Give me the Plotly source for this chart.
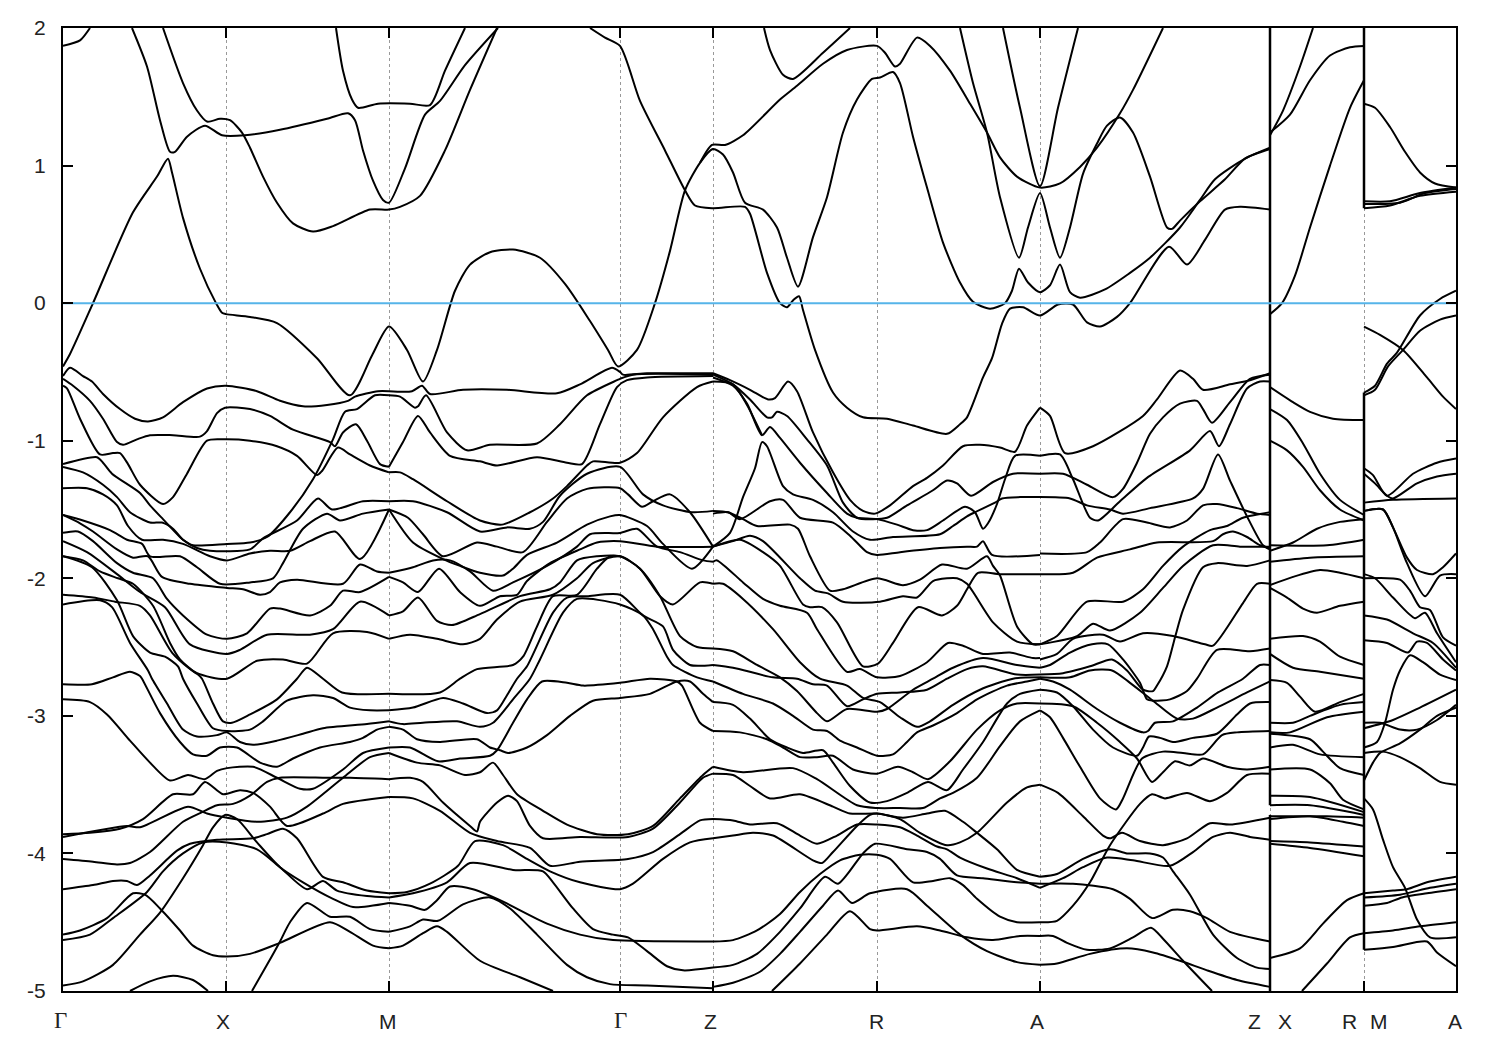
import plotly.graph_objects as go

# Path positions of the high-symmetry points (k axis units) and energies in eV
K_TICKS = [63, 226, 389, 620, 713, 877, 1040, 1270, 1364, 1456]
E_TICKS = [2, 1, 0, -1, -2, -3, -4, -5]
E_LABELS = ["2", "1", "0", "-1", "-2", "-3", "-4", "-5"]
K_LABELS = [("Γ", 63), ("X", 223), ("M", 388), ("Γ", 620), ("Z", 710), ("R", 876),
            ("A", 1037), ("Z", 1254), ("X", 1285), ("R", 1349), ("M", 1379), ("A", 1455)]

UPPER = [
 [(63,-.46),(70,-.37),(93,0),(133,.66),(157,.92),(168,1.05),(172,.95),(183,.62),(200,.25),(216,0),(222,-.07),(226,-.08),(250,-.1),(277,-.145),(317,-.40),(350,-.67),(372,-.38),(389,-.17),(407,-.34),(423,-.57),(437,-.34),(455,.09),(470,.28),(490,.37),(513,.39),(540,.33),(565,.14),(590,-.13),(608,-.34),(618,-.46),(637,-.34),(655,0),(670,.38),(685,.82),(700,1.02),(713,1.12),(723,1.08),(733,.95),(745,.73),(763,.68),(777,.55),(787,.33),(798,.12),(813,.48),(827,.77),(843,1.24),(857,1.48),(872,1.63),(880,1.64),(893,1.68),(900,1.60),(913,1.21),(927,.84),(943,.44),(960,.15),(973,.01),(990,-.04),(1005,0),(1012,.09),(1019,.25),(1028,.15),(1040,.08),(1050,.13),(1060,.28),(1070,.08),(1080,.04),(1105,.10),(1130,.22),(1150,.33),(1180,.55),(1200,.75),(1215,.90),(1245,1.05),(1270,1.13)],
 [(132,2),(147,1.72),(160,1.33),(170,1.10),(175,1.10),(187,1.21),(205,1.29),(222,1.22),(245,1.22),(280,1.26),(327,1.34),(348,1.38),(355,1.33),(363,1.11),(373,.89),(383,.75),(389,.73),(405,.98),(425,1.37),(440,1.47),(465,1.73),(498,2)],
 [(163,2),(183,1.6),(197,1.40),(207,1.32),(220,1.34),(230,1.33),(242,1.24),(250,1.13),(263,.92),(277,.73),(293,.58),(313,.52),(333,.56),(370,.68),(389,.68),(400,.70),(420,.78),(445,1.11),(470,1.55),(497,2)],
 [(336,2),(343,1.69),(352,1.48),(358,1.42),(378,1.45),(410,1.45),(430,1.44),(445,1.69),(465,2)],
 [(63,1.87),(80,1.91),(90,2)],
 [(590,2),(605,1.93),(620,1.87),(640,1.47),(665,1.11),(685,.82),(695,.71),(713,.69),(745,.70),(750,.65),(767,.22),(780,0),(787,-.03),(793,.02),(799,.05),(803,-.05),(815,-.34),(833,-.65),(847,-.76),(863,-.83),(887,-.84),(913,-.89),(947,-.95),(960,-.88),(967,-.83),(983,-.54),(992,-.40),(1002,-.15),(1010,-.04),(1023,-.03),(1040,-.09),(1058,-.01),(1073,-.01),(1087,-.14),(1100,-.17),(1117,-.10),(1130,0),(1169,.41),(1187,.28),(1205,.46),(1225,.68),(1240,.70),(1270,.68)],
 [(700,1.02),(712,1.15),(725,1.15),(743,1.22),(780,1.48),(797,1.58),(823,1.74),(847,1.84),(877,1.87),(885,1.82),(895,1.72),(900,1.74),(917,1.93),(930,1.87),(950,1.69),(970,1.45),(987,1.24),(1000,1.06),(1017,.92),(1040,.84),(1060,.87),(1080,.99),(1097,1.13),(1120,1.38),(1133,1.55),(1163,2)],
 [(764,2),(770,1.84),(783,1.66),(793,1.63),(823,1.82),(850,2)],
 [(960,2),(973,1.6),(987,1.24),(1000,.77),(1019,.33),(1028,.55),(1040,.80),(1050,.55),(1060,.33),(1070,.55),(1083,.94),(1097,1.16),(1107,1.29),(1120,1.35),(1133,1.24),(1150,.92),(1167,.55),(1172,.54),(1180,.60),(1200,.74),(1225,.90),(1245,1.05),(1270,1.12)],
 [(1003,2),(1020,1.42),(1040,.85),(1058,1.42),(1078,2)],
]

GM = [
 [(63,-.53),(70,-.47),(83,-.53),(92,-.57),(103,-.66),(120,-.77),(135,-.84),(148,-.86),(163,-.83),(183,-.72),(207,-.62),(226,-.60),(257,-.64),(280,-.71),(303,-.75),(327,-.74),(348,-.71),(355,-.68),(378,-.64),(389,-.64)],
 [(63,-.55),(73,-.60),(90,-.71),(103,-.84),(117,-1.01),(123,-1.03),(137,-.99),(150,-.96),(173,-.96),(200,-.97),(207,-.93),(217,-.80),(225,-.76),(250,-.77),(270,-.82),(293,-.92),(330,-1.01),(335,-1.04),(343,-.94),(356,-.88),(367,-1.0),(380,-1.17),(389,-1.19)],
 [(63,-.60),(67,-.62),(80,-.84),(100,-1.10),(113,-1.09),(120,-1.09),(128,-1.17),(140,-1.32),(163,-1.46),(173,-1.41),(187,-1.24),(207,-1),(223,-.99),(250,-1.0),(277,-1.04),(297,-1.11),(317,-1.25),(322,-1.22),(338,-1.05),(350,-1.10),(370,-1.18),(389,-1.23)],
 [(63,-1.17),(97,-1.12),(103,-1.16),(112,-1.24),(140,-1.38),(150,-1.47),(163,-1.57),(183,-1.72),(193,-1.76),(227,-1.75),(250,-1.74),(267,-1.70),(290,-1.52),(313,-1.28),(333,-.99),(345,-.79),(357,-.77),(375,-.67),(389,-.67)],
 [(63,-1.19),(83,-1.23),(103,-1.32),(117,-1.41),(130,-1.52),(150,-1.595),(162,-1.595),(173,-1.64),(183,-1.72),(197,-1.78),(210,-1.80),(250,-1.79),(263,-1.71),(297,-1.58),(318,-1.42),(332,-1.50),(363,-1.44),(389,-1.44)],
 [(63,-1.345),(87,-1.345),(103,-1.39),(117,-1.47),(128,-1.62),(142,-1.72),(163,-1.72),(183,-1.75),(210,-1.84),(227,-1.87),(250,-1.82),(270,-1.80),(290,-1.80),(310,-1.73),(335,-1.66),(360,-1.86),(389,-1.50)],
 [(63,-1.54),(83,-1.58),(110,-1.65),(127,-1.72),(142,-1.75),(150,-1.84),(180,-1.84),(197,-1.92),(220,-2.04),(250,-2.03),(273,-2.0),(283,-1.89),(303,-1.64),(327,-1.53),(340,-1.58),(363,-1.53),(389,-1.50)],
 [(63,-1.54),(80,-1.60),(93,-1.66),(117,-1.79),(133,-1.85),(148,-1.84),(162,-1.99),(190,-2.04),(227,-2.07),(243,-2.08),(260,-2.12),(270,-2.10),(280,-2.03),(297,-2.01),(343,-2.04),(360,-1.9),(377,-1.95),(389,-1.96)],
 [(63,-1.67),(78,-1.66),(93,-1.73),(117,-1.89),(133,-1.96),(153,-2.0),(167,-2.15),(183,-2.27),(207,-2.41),(227,-2.44),(247,-2.40),(270,-2.22),(280,-2.22),(310,-2.27),(330,-2.20),(343,-2.09),(360,-2.10),(389,-1.99)],
 [(63,-1.73),(87,-1.81),(117,-1.97),(140,-2.1),(165,-2.21),(190,-2.48),(227,-2.55),(240,-2.52),(267,-2.41),(310,-2.41),(333,-2.37),(360,-2.17),(389,-2.27)],
 [(63,-1.84),(83,-1.87),(100,-1.95),(118,-2.0),(133,-2.04),(153,-2.2),(170,-2.47),(180,-2.59),(197,-2.69),(227,-2.73),(257,-2.6),(283,-2.59),(307,-2.62),(333,-2.40),(367,-2.39),(389,-2.44)],
 [(63,-1.84),(92,-1.92),(117,-2.16),(133,-2.42),(150,-2.54),(165,-2.57),(178,-2.64),(183,-2.73),(197,-2.91),(213,-3.09),(227,-3.11),(250,-3.10),(263,-3.04),(287,-2.89),(313,-2.85),(333,-2.87),(350,-2.94),(370,-2.96),(389,-2.96)],
 [(63,-2.12),(93,-2.14),(115,-2.17),(140,-2.2),(150,-2.27),(172,-2.54),(190,-2.66),(198,-2.70),(202,-2.73),(213,-2.91),(223,-3.04),(232,-3.05),(250,-2.99),(277,-2.88),(297,-2.73),(307,-2.65),(323,-2.73),(342,-2.83),(389,-2.84)],
 [(63,-2.19),(100,-2.16),(112,-2.21),(130,-2.47),(148,-2.67),(152,-2.73),(167,-2.91),(183,-3.10),(197,-3.15),(217,-3.14),(227,-3.12),(240,-3.19),(253,-3.21),(277,-3.18),(303,-3.13),(323,-3.09),(367,-3.06),(389,-3.04)],
 [(63,-2.77),(92,-2.77),(113,-2.72),(130,-2.68),(140,-2.71),(142,-2.73),(160,-2.98),(180,-3.19),(193,-3.28),(207,-3.29),(220,-3.23),(237,-3.23),(260,-3.34),(277,-3.37),(293,-3.31),(320,-3.23),(350,-3.19),(363,-3.16),(377,-3.10),(389,-3.08)],
 [(63,-2.88),(90,-2.90),(107,-2.99),(130,-3.18),(150,-3.34),(170,-3.47),(188,-3.43),(205,-3.46),(217,-3.40),(227,-3.38),(253,-3.37),(277,-3.45),(300,-3.53),(313,-3.53),(343,-3.39),(363,-3.27),(389,-3.23)],
 [(63,-3.86),(90,-3.85),(120,-3.82),(143,-3.75),(173,-3.57),(193,-3.57),(205,-3.48),(223,-3.57),(240,-3.54),(253,-3.56),(270,-3.66),(287,-3.80),(323,-3.71),(343,-3.64),(389,-3.59)],
 [(63,-3.88),(127,-3.80),(140,-3.81),(188,-3.66),(207,-3.71),(227,-3.74),(258,-3.77),(287,-3.74),(307,-3.66),(343,-3.45),(370,-3.30),(389,-3.27)],
 [(63,-4.04),(93,-4.06),(117,-4.08),(130,-4.07),(150,-3.99),(183,-3.77),(202,-3.70),(217,-3.65),(233,-3.64),(250,-3.58),(267,-3.48),(280,-3.45),(327,-3.45),(350,-3.45),(389,-3.46)],
 [(63,-4.26),(93,-4.23),(113,-4.20),(127,-4.20),(137,-4.23),(150,-4.16),(177,-3.98),(190,-3.93),(217,-3.90),(253,-3.89),(267,-3.86),(283,-3.82),(297,-3.89),(323,-4.17),(343,-4.21),(367,-4.27),(389,-4.29)],
 [(63,-4.59),(80,-4.56),(107,-4.47),(133,-4.29),(145,-4.30),(160,-4.40),(180,-4.56),(193,-4.67),(213,-4.74),(227,-4.75),(250,-4.73),(280,-4.65),(330,-4.50),(350,-4.57),(373,-4.67),(389,-4.69)],
 [(63,-4.63),(90,-4.59),(113,-4.47),(147,-4.28),(163,-4.13),(183,-4.0),(203,-3.92),(227,-3.92),(257,-3.97),(280,-4.10),(307,-4.26),(323,-4.20),(337,-4.27),(367,-4.31),(389,-4.32)],
 [(63,-4.96),(83,-4.93),(113,-4.81),(140,-4.59),(160,-4.43),(183,-4.18),(203,-3.94),(213,-3.81),(225,-3.72),(237,-3.75),(257,-3.92),(280,-4.10),(303,-4.21),(333,-4.33),(353,-4.39),(389,-4.36)],
 [(130,-5),(150,-4.93),(173,-4.89),(193,-4.92),(208,-5)],
 [(252,-5),(267,-4.81),(280,-4.64),(290,-4.50),(307,-4.36),(330,-4.46),(350,-4.46),(370,-4.55),(389,-4.57)],
]

MZ = [
 [(389,-.64),(412,-.64),(422,-.60),(430,-.66),(463,-.63),(507,-.63),(557,-.655),(580,-.59),(612,-.47),(620,-.50),(623,-.52),(647,-.51),(713,-.51)],
 [(389,-.67),(400,-.68),(415,-.76),(418,-.75),(426,-.67),(447,-.94),(467,-1.07),(490,-1.03),(537,-1.02),(560,-.88),(587,-.67),(617,-.56),(620,-.55),(633,-.52),(713,-.52)],
 [(389,-1.19),(403,-1.01),(418,-.82),(430,-.94),(450,-1.11),(480,-1.15),(497,-1.18),(537,-1.12),(567,-1.16),(582,-1.17),(600,-.88),(617,-.61),(627,-.56),(647,-.54),(713,-.53)],
 [(389,-1.23),(400,-1.23),(413,-1.28),(447,-1.44),(480,-1.58),(502,-1.61),(530,-1.52),(553,-1.42),(567,-1.33),(587,-1.18),(593,-1.15),(620,-1.16),(637,-1.09),(663,-.83),(697,-.61),(713,-.57)],
 [(389,-1.44),(413,-1.44),(447,-1.52),(480,-1.66),(507,-1.63),(530,-1.64),(543,-1.59),(560,-1.40),(587,-1.24),(620,-1.19),(643,-1.39),(663,-1.47),(692,-1.52),(713,-1.51)],
 [(389,-1.50),(408,-1.56),(423,-1.68),(443,-1.84),(477,-1.74),(497,-1.77),(523,-1.81),(547,-1.59),(567,-1.42),(587,-1.35),(620,-1.345),(628,-1.39),(642,-1.48),(653,-1.44),(670,-1.39),(690,-1.52),(713,-1.77)],
 [(389,-1.50),(413,-1.74),(443,-1.86),(460,-1.91),(480,-1.96),(503,-1.98),(513,-1.93),(527,-1.83),(557,-1.74),(587,-1.61),(610,-1.55),(620,-1.54),(647,-1.62),(663,-1.75),(692,-1.93),(713,-1.77)],
 [(389,-1.96),(413,-1.92),(433,-1.87),(450,-1.87),(470,-1.95),(493,-2.09),(513,-2.03),(547,-1.91),(577,-1.77),(590,-1.68),(620,-1.67),(637,-1.64),(657,-1.77),(680,-1.81),(703,-1.87),(713,-1.88)],
 [(389,-1.99),(403,-2.03),(418,-2.10),(439,-1.93),(460,-2.10),(480,-2.20),(500,-2.13),(517,-2.12),(527,-2.02),(550,-1.89),(580,-1.79),(597,-1.74),(620,-1.73),(657,-1.77),(713,-1.77)],
 [(389,-2.27),(403,-2.24),(418,-2.14),(437,-2.31),(452,-2.34),(480,-2.26),(520,-2.13),(550,-2.08),(560,-2.03),(577,-1.87),(597,-1.84),(620,-1.84),(640,-1.93),(660,-2.13),(673,-2.19),(700,-2.03),(713,-2.04)],
 [(389,-2.44),(410,-2.41),(437,-2.44),(463,-2.48),(480,-2.44),(497,-2.30),(520,-2.17),(553,-2.12),(577,-2.0),(593,-1.89),(620,-1.84),(640,-1.93),(660,-2.13),(680,-2.42),(697,-2.50),(713,-2.51)],
 [(389,-2.84),(440,-2.83),(460,-2.73),(477,-2.66),(513,-2.63),(523,-2.57),(537,-2.35),(553,-2.13),(577,-2.12),(597,-1.93),(610,-1.84),(620,-1.84)],
 [(389,-2.96),(413,-2.94),(443,-2.87),(463,-2.91),(487,-2.98),(497,-2.96),(507,-2.85),(517,-2.73),(527,-2.64),(553,-2.25),(567,-2.14),(587,-2.13),(620,-2.12),(643,-2.27),(663,-2.35),(673,-2.52),(690,-2.63),(713,-2.63)],
 [(389,-3.04),(403,-3.06),(423,-3.05),(457,-3.04),(480,-3.08),(493,-3.05),(513,-2.88),(530,-2.73),(540,-2.59),(563,-2.25),(577,-2.15),(620,-2.19),(643,-2.27),(653,-2.37),(667,-2.57),(673,-2.63),(697,-2.72),(713,-2.75)],
 [(389,-3.08),(403,-3.10),(417,-3.17),(440,-3.19),(477,-3.17),(490,-3.23),(500,-3.25),(508,-3.27),(527,-3.23),(547,-3.14),(570,-3.0),(593,-2.89),(620,-2.87),(650,-2.84),(677,-2.75),(690,-2.75),(703,-2.84),(713,-2.90)],
 [(389,-3.23),(410,-3.23),(438,-3.33),(460,-3.31),(490,-3.29),(497,-3.25),(513,-3.05),(527,-2.88),(542,-2.75),(567,-2.76),(583,-2.78),(620,-2.76),(650,-2.73),(677,-2.75),(682,-2.78),(700,-3.05),(713,-3.11)],
 [(389,-3.27),(417,-3.34),(440,-3.36),(465,-3.43),(480,-3.41),(493,-3.34),(503,-3.43),(517,-3.57),(543,-3.69),(567,-3.79),(597,-3.86),(628,-3.86),(653,-3.80),(680,-3.60),(703,-3.43),(713,-3.37)],
 [(389,-3.46),(410,-3.45),(423,-3.48),(443,-3.63),(470,-3.80),(477,-3.84),(480,-3.77),(497,-3.63),(508,-3.58),(517,-3.62),(530,-3.80),(543,-3.89),(580,-3.88),(628,-3.88),(653,-3.82),(680,-3.63),(703,-3.45),(713,-3.42)],
 [(389,-3.59),(413,-3.60),(440,-3.69),(470,-3.85),(497,-3.91),(530,-3.96),(550,-4.09),(580,-4.06),(628,-4.04),(653,-3.99),(680,-3.86),(700,-3.76),(713,-3.75)],
 [(389,-4.29),(407,-4.28),(430,-4.22),(458,-4.09),(475,-3.91),(503,-3.94),(527,-4.04),(550,-4.13),(580,-4.21),(620,-4.26),(633,-4.22),(663,-4.04),(690,-3.92),(713,-3.89)],
 [(389,-4.32),(413,-4.29),(447,-4.21),(470,-4.07),(513,-4.12),(543,-4.13),(553,-4.21),(573,-4.40),(593,-4.55),(613,-4.59),(628,-4.61),(647,-4.71),(667,-4.82),(683,-4.85),(713,-4.83)],
 [(389,-4.36),(410,-4.38),(425,-4.41),(437,-4.34),(450,-4.24),(473,-4.26),(500,-4.34),(547,-4.51),(580,-4.59),(613,-4.63),(713,-4.64)],
 [(389,-4.57),(410,-4.53),(423,-4.48),(438,-4.49),(463,-4.37),(490,-4.32),(510,-4.40),(537,-4.59),(567,-4.81),(587,-4.90),(610,-4.95),(647,-4.96),(713,-4.98)],
 [(389,-4.69),(403,-4.67),(423,-4.58),(437,-4.53),(447,-4.57),(480,-4.78),(520,-4.90),(553,-5)],
]

ZA = [
 [(713,-.51),(730,-.56),(750,-.63),(768,-.70),(775,-.69),(788,-.57),(797,-.64),(813,-.94),(833,-1.23),(850,-1.43),(863,-1.51),(875,-1.53),(890,-1.47),(913,-1.33),(927,-1.27),(943,-1.18),(963,-1.04),(980,-1.03),(1000,-1.05),(1015,-1.08),(1027,-.89),(1040,-.76)],
 [(713,-.52),(733,-.59),(750,-.70),(767,-.83),(772,-.83),(777,-.79),(787,-.82),(807,-.99),(827,-1.18),(843,-1.45),(857,-1.56),(873,-1.57),(887,-1.56),(907,-1.47),(933,-1.36),(947,-1.29),(957,-1.31),(971,-1.40),(993,-1.30),(1013,-1.24),(1040,-1.24)],
 [(713,-.54),(733,-.60),(747,-.73),(762,-.96),(770,-.90),(780,-.98),(800,-1.16),(827,-1.38),(847,-1.53),(857,-1.56),(877,-1.57),(897,-1.61),(913,-1.65),(927,-1.65),(943,-1.58),(965,-1.48),(975,-1.52),(983,-1.64),(988,-1.60),(997,-1.46),(1005,-1.28),(1015,-1.11),(1040,-1.11)],
 [(713,-.57),(733,-.59),(747,-.74),(762,-.96)],
 [(713,-1.77),(730,-1.67),(743,-1.41),(755,-1.2),(762,-1.01),(767,-1.04),(783,-1.33),(793,-1.39),(813,-1.43),(833,-1.52),(853,-1.66),(870,-1.72),(893,-1.70),(940,-1.68),(953,-1.62),(967,-1.55),(975,-1.52),(995,-1.45),(1002,-1.42),(1020,-1.41),(1040,-1.41)],
 [(713,-1.53),(728,-1.52),(740,-1.57),(770,-1.44),(783,-1.43),(800,-1.56),(833,-1.595),(850,-1.69),(867,-1.81),(877,-1.83),(900,-1.81),(940,-1.78),(967,-1.77),(977,-1.77),(983,-1.73),(992,-1.83),(1040,-1.83)],
 [(713,-1.51),(728,-1.52),(743,-1.57),(757,-1.62),(790,-1.61),(798,-1.64),(810,-1.84),(830,-2.09),(843,-2.08),(877,-2.0),(903,-2.05),(920,-2.01),(942,-1.90),(967,-1.93),(987,-1.84),(993,-1.91),(1000,-1.98),(1017,-2.35),(1033,-2.48),(1040,-2.48)],
 [(713,-1.77),(733,-1.73),(750,-1.69),(763,-1.73),(800,-2.0),(815,-2.09),(828,-2.11),(843,-2.17),(880,-2.17),(903,-2.13),(917,-2.14),(933,-2.02),(947,-2.0),(957,-2.0),(967,-2.04),(993,-2.32),(1017,-2.46),(1040,-2.48)],
 [(713,-1.77),(740,-1.72),(763,-1.81),(780,-1.91),(803,-2.19),(810,-2.21),(822,-2.21),(837,-2.32),(863,-2.64),(878,-2.62),(893,-2.47),(918,-2.21),(942,-2.27),(957,-2.20),(967,-2.08),(978,-1.96),(1000,-1.97),(1040,-1.97)],
 [(713,-1.88),(717,-1.87),(743,-2.03),(763,-2.15),(780,-2.20),(807,-2.25),(817,-2.37),(847,-2.68),(860,-2.66),(877,-2.72),(900,-2.71),(927,-2.61),(948,-2.47),(963,-2.49),(983,-2.55),(1010,-2.54),(1033,-2.58),(1040,-2.58)],
 [(713,-2.04),(723,-2.04),(743,-2.15),(773,-2.37),(800,-2.61),(820,-2.73),(847,-2.78),(863,-2.87),(880,-2.90),(900,-3.01),(917,-3.08),(930,-3.04),(953,-2.92),(980,-2.81),(1013,-2.73),(1040,-2.72)],
 [(713,-2.51),(733,-2.53),(757,-2.63),(780,-2.72),(797,-2.82),(817,-2.98),(827,-3.04),(847,-2.95),(877,-2.97),(887,-2.95),(913,-2.81),(933,-2.73),(953,-2.65),(983,-2.58),(1017,-2.63),(1040,-2.65)],
 [(713,-2.63),(733,-2.65),(773,-2.72),(797,-2.73),(813,-2.77),(827,-2.78),(847,-2.93),(863,-2.88),(877,-2.84),(900,-2.83),(927,-2.81),(947,-2.73),(967,-2.66),(983,-2.64),(1017,-2.70),(1040,-2.70)],
 [(713,-2.75),(743,-2.84),(773,-2.91),(793,-3.0),(813,-3.10),(827,-3.11),(840,-3.18),(857,-3.23),(877,-3.29),(893,-3.28),(907,-3.19),(917,-3.12),(933,-3.07),(957,-2.98),(977,-2.88),(1007,-2.78),(1027,-2.75),(1040,-2.73)],
 [(713,-2.90),(733,-2.92),(750,-3.02),(770,-3.17),(787,-3.23),(803,-3.27),(823,-3.25),(833,-3.34),(850,-3.51),(870,-3.63),(887,-3.62),(907,-3.56),(928,-3.48),(947,-3.54),(963,-3.39),(983,-3.19),(1007,-2.91),(1020,-2.84),(1040,-2.81)],
 [(713,-3.11),(740,-3.12),(767,-3.17),(783,-3.23),(800,-3.30),(817,-3.30),(833,-3.29),(853,-3.39),(877,-3.42),(898,-3.37),(913,-3.41),(928,-3.46),(950,-3.33),(977,-3.10),(1000,-2.96),(1017,-2.91),(1040,-2.91)],
 [(713,-3.37),(743,-3.41),(793,-3.38),(817,-3.46),(857,-3.65),(877,-3.67),(900,-3.67),(923,-3.67),(940,-3.60),(953,-3.56),(977,-3.45),(1000,-3.22),(1020,-3.04),(1040,-2.96)],
 [(713,-3.42),(733,-3.43),(750,-3.51),(770,-3.60),(800,-3.57),(833,-3.66),(850,-3.71),(877,-3.71),(903,-3.74),(927,-3.71),(945,-3.69),(963,-3.77),(977,-3.85),(997,-3.97),(1017,-4.12),(1040,-4.17)],
 [(713,-3.75),(733,-3.76),(750,-3.79),(777,-3.78),(800,-3.87),(817,-3.93),(837,-3.87),(857,-3.79),(877,-3.79),(900,-3.81),(917,-3.87),(937,-3.95),(947,-3.97),(960,-4.03),(987,-4.11),(1017,-4.18),(1040,-4.25)],
 [(713,-3.89),(733,-3.87),(753,-3.85),(773,-3.87),(813,-4.05),(822,-4.07),(833,-3.99),(857,-3.80),(870,-3.72),(877,-3.71),(900,-3.75),(920,-3.85),(947,-3.94),(960,-3.92),(977,-3.85),(1007,-3.63),(1027,-3.52),(1040,-3.50)],
 [(713,-4.64),(733,-4.63),(757,-4.56),(780,-4.44),(800,-4.28),(820,-4.15),(840,-4.05),(860,-4.01),(877,-4.01),(890,-4.04),(913,-4.21),(933,-4.20),(950,-4.18),(963,-4.23),(977,-4.33),(1000,-4.46),(1017,-4.50),(1040,-4.50)],
 [(713,-4.83),(733,-4.81),(757,-4.73),(780,-4.57),(800,-4.40),(825,-4.17),(838,-4.22),(863,-4.0),(875,-3.93),(907,-3.97),(927,-3.99),(940,-4.04),(957,-4.16),(983,-4.18),(1017,-4.21),(1040,-4.22)],
 [(713,-4.97),(733,-4.94),(760,-4.86),(780,-4.73),(800,-4.57),(823,-4.38),(838,-4.27),(852,-4.36),(870,-4.29),(907,-4.26),(927,-4.38),(960,-4.59),(987,-4.71),(1017,-4.79),(1040,-4.81)],
 [(772,-5),(800,-4.80),(827,-4.59),(850,-4.42),(870,-4.55),(877,-4.56),(917,-4.53),(940,-4.56),(967,-4.61),(993,-4.63),(1020,-4.60),(1040,-4.60)],
]

AZ = [
 [(1040,-.76),(1050,-.82),(1065,-1.09),(1093,-1.04),(1143,-.82),(1157,-.70),(1180,-.49),(1193,-.55),(1203,-.63),(1230,-.59),(1250,-.56),(1270,-.51)],
 [(1040,-1.11),(1060,-1.10),(1073,-1.28),(1090,-1.56),(1098,-1.58),(1120,-1.44),(1147,-1.27),(1190,-1.07),(1210,-.93),(1219,-1.04),(1230,-.88),(1247,-.62),(1260,-.57),(1270,-.57)],
 [(1040,-1.24),(1063,-1.24),(1087,-1.32),(1113,-1.41),(1123,-1.35),(1137,-1.16),(1150,-.95),(1163,-.83),(1180,-.73),(1197,-.71),(1203,-.77),(1212,-.87),(1230,-.72),(1250,-.55),(1270,-.52)],
 [(1040,-1.41),(1070,-1.42),(1087,-1.47),(1110,-1.50),(1123,-1.53),(1150,-1.49),(1193,-1.42),(1203,-1.35),(1218,-1.10),(1230,-1.29),(1247,-1.55),(1263,-1.76),(1270,-1.79)],
 [(1040,-1.82),(1087,-1.81),(1100,-1.74),(1123,-1.57),(1147,-1.595),(1170,-1.63),(1187,-1.58),(1203,-1.47),(1217,-1.46),(1237,-1.49),(1257,-1.53),(1270,-1.54)],
 [(1040,-1.97),(1073,-1.96),(1097,-1.85),(1130,-1.79),(1157,-1.74),(1213,-1.73),(1223,-1.68),(1233,-1.66),(1247,-1.70),(1260,-1.76),(1270,-1.78)],
 [(1040,-2.48),(1057,-2.42),(1087,-2.17),(1123,-2.17),(1143,-2.08),(1163,-1.91),(1183,-1.77),(1210,-1.65),(1227,-1.62),(1243,-1.56),(1270,-1.52)],
 [(1040,-2.48),(1077,-2.42),(1093,-2.33),(1110,-2.38),(1140,-2.25),(1163,-2.07),(1183,-1.91),(1213,-1.76),(1240,-1.77),(1270,-1.77)],
 [(1040,-2.59),(1057,-2.55),(1073,-2.44),(1103,-2.41),(1120,-2.46),(1143,-2.40),(1173,-2.42),(1205,-2.48),(1213,-2.49),(1243,-2.18),(1257,-2.04),(1270,-2.04)],
 [(1040,-2.65),(1050,-2.63),(1070,-2.54),(1092,-2.48),(1108,-2.48),(1123,-2.59),(1140,-2.76),(1147,-2.88),(1153,-2.89),(1170,-2.88),(1187,-2.82),(1197,-2.73),(1217,-2.52),(1250,-2.53),(1270,-2.51)],
 [(1040,-2.70),(1063,-2.69),(1090,-2.64),(1112,-2.59),(1127,-2.67),(1143,-2.81),(1153,-2.82),(1157,-2.78),(1167,-2.64),(1175,-2.43),(1183,-2.23),(1203,-1.92),(1217,-1.89),(1247,-1.91),(1270,-1.87)],
 [(1040,-2.72),(1070,-2.72),(1090,-2.67),(1112,-2.67),(1130,-2.76),(1153,-2.89),(1177,-3.02),(1193,-3.02),(1217,-2.94),(1247,-2.83),(1270,-2.75)],
 [(1040,-2.73),(1053,-2.75),(1070,-2.81),(1097,-2.95),(1120,-3.05),(1143,-3.12),(1148,-3.11),(1155,-3.05),(1173,-3.04),(1197,-2.94),(1218,-2.83),(1243,-2.73),(1260,-2.63),(1270,-2.63)],
 [(1040,-2.81),(1057,-2.83),(1073,-2.93),(1093,-3.10),(1113,-3.23),(1137,-3.29),(1143,-3.23),(1149,-3.15),(1160,-3.16),(1173,-3.19),(1193,-3.16),(1217,-3.13),(1237,-2.99),(1250,-2.91),(1270,-2.90)],
 [(1040,-2.91),(1073,-2.93),(1097,-3.05),(1120,-3.19),(1137,-3.31),(1152,-3.48),(1163,-3.41),(1175,-3.33),(1190,-3.36),(1203,-3.31),(1227,-3.37),(1247,-3.39),(1270,-3.37)],
 [(1040,-2.96),(1050,-3.01),(1063,-3.16),(1080,-3.37),(1100,-3.60),(1116,-3.68),(1123,-3.60),(1142,-3.31),(1163,-3.26),(1183,-3.27),(1203,-3.28),(1222,-3.14),(1237,-3.12),(1270,-3.11)],
 [(1040,-3.50),(1058,-3.56),(1083,-3.73),(1103,-3.87),(1110,-3.89),(1122,-3.85),(1140,-3.91),(1163,-3.94),(1187,-3.89),(1210,-3.78),(1230,-3.79),(1270,-3.74)],
 [(1040,-4.17),(1057,-4.15),(1083,-4.04),(1110,-3.97),(1127,-4.0),(1150,-4.0),(1163,-4.03),(1173,-4.13),(1190,-4.30),(1213,-4.59),(1237,-4.76),(1257,-4.83),(1270,-4.84)],
 [(1040,-4.25),(1063,-4.18),(1083,-4.10),(1107,-4.03),(1133,-4.05),(1170,-4.09),(1193,-3.99),(1213,-3.88),(1230,-3.85),(1250,-3.88),(1270,-3.90)],
 [(1040,-4.22),(1073,-4.22),(1113,-4.26),(1130,-4.33),(1152,-4.47),(1173,-4.41),(1190,-4.42),(1207,-4.47),(1230,-4.57),(1270,-4.64)],
 [(1040,-4.50),(1057,-4.49),(1073,-4.38),(1090,-4.21),(1110,-3.94),(1140,-3.64),(1152,-3.57),(1165,-3.60),(1187,-3.56),(1210,-3.62),(1227,-3.56),(1247,-3.43),(1270,-3.42)],
 [(1040,-4.60),(1053,-4.60),(1067,-4.65),(1087,-4.70),(1110,-4.69),(1133,-4.61),(1151,-4.54),(1163,-4.62),(1183,-4.78),(1212,-5)],
 [(1040,-4.81),(1057,-4.80),(1090,-4.73),(1127,-4.69),(1153,-4.72),(1180,-4.78),(1207,-4.85),(1237,-4.92),(1270,-4.97)],
]

XR = [
 [(1270,1.22),(1283,1.40),(1300,1.72),(1313,2)],
 [(1270,1.24),(1290,1.37),(1310,1.62),(1330,1.8),(1350,1.86),(1364,1.87)],
 [(1270,-.08),(1282,0),(1295,.2),(1310,.55),(1330,1.0),(1350,1.42),(1364,1.62)],
 [(1270,-.61),(1293,-.72),(1310,-.79),(1333,-.84),(1364,-.85)],
 [(1270,-.77),(1287,-.85),(1303,-1.02),(1320,-1.24),(1340,-1.43),(1364,-1.54)],
 [(1270,-1.0),(1287,-1.07),(1303,-1.19),(1320,-1.36),(1340,-1.50),(1364,-1.58)],
 [(1270,-1.80),(1293,-1.74),(1317,-1.64),(1340,-1.59),(1364,-1.57)],
 [(1270,-1.76),(1327,-1.76),(1364,-1.72)],
 [(1270,-1.88),(1310,-1.85),(1364,-1.84)],
 [(1270,-2.05),(1293,-1.99),(1320,-1.94),(1340,-1.96),(1364,-2.0)],
 [(1270,-2.07),(1287,-2.14),(1303,-2.22),(1317,-2.25),(1340,-2.20),(1364,-2.17)],
 [(1270,-2.44),(1303,-2.42),(1320,-2.46),(1340,-2.57),(1364,-2.63)],
 [(1270,-2.55),(1293,-2.65),(1320,-2.68),(1364,-2.73)],
 [(1270,-2.74),(1287,-2.76),(1300,-2.86),(1315,-2.97),(1340,-2.90),(1364,-2.84)],
 [(1270,-3.05),(1293,-3.05),(1310,-3.0),(1340,-2.92),(1364,-2.90)],
 [(1270,-3.12),(1290,-3.12),(1327,-3.01),(1364,-2.97)],
 [(1270,-3.13),(1310,-3.17),(1323,-3.26),(1340,-3.38),(1364,-3.43)],
 [(1270,-3.23),(1293,-3.21),(1320,-3.28),(1364,-3.30)],
 [(1270,-3.39),(1310,-3.39),(1330,-3.49),(1343,-3.61),(1364,-3.68)],
 [(1270,-3.58),(1310,-3.59),(1364,-3.70)],
 [(1270,-3.65),(1310,-3.65),(1364,-3.72)],
 [(1270,-3.73),(1327,-3.73),(1364,-3.74)],
 [(1270,-3.75),(1310,-3.73),(1343,-3.77),(1364,-3.80)],
 [(1270,-3.91),(1310,-3.92),(1364,-3.95)],
 [(1270,-3.93),(1310,-3.96),(1364,-4.02)],
 [(1270,-4.76),(1300,-4.69),(1323,-4.51),(1347,-4.34),(1364,-4.29)],
 [(1302,-5),(1327,-4.80),(1350,-4.61),(1364,-4.58)],
]

MA = [
 [(1364,1.45),(1375,1.42),(1390,1.28),(1405,1.10),(1420,.95),(1435,.87),(1456,.84)],
 [(1364,.74),(1390,.74),(1420,.80),(1456,.84)],
 [(1364,.72),(1400,.73),(1425,.80),(1456,.83)],
 [(1364,.69),(1390,.71),(1420,.78),(1456,.81)],
 [(1364,-.65),(1375,-.60),(1387,-.44),(1397,-.36),(1420,-.09),(1440,.03),(1456,.09)],
 [(1364,-.67),(1375,-.63),(1388,-.46),(1403,-.34),(1420,-.2),(1440,-.12),(1456,-.09)],
 [(1364,-.17),(1380,-.23),(1403,-.34),(1427,-.54),(1443,-.68),(1456,-.77)],
 [(1364,-1.20),(1373,-1.25),(1387,-1.40),(1413,-1.24),(1437,-1.16),(1456,-1.13)],
 [(1364,-1.24),(1375,-1.31),(1387,-1.40),(1393,-1.42),(1417,-1.31),(1437,-1.26),(1456,-1.24)],
 [(1364,-1.45),(1393,-1.43),(1456,-1.42)],
 [(1364,-1.51),(1383,-1.50),(1393,-1.63),(1407,-1.85),(1417,-1.94),(1433,-1.97),(1443,-1.92),(1456,-1.82)],
 [(1364,-1.51),(1383,-1.50),(1393,-1.63),(1407,-1.89),(1425,-2.13),(1440,-1.98),(1456,-1.97)],
 [(1364,-1.97),(1375,-2.0),(1393,-2.14),(1415,-2.29),(1425,-2.25),(1437,-2.40),(1456,-2.61)],
 [(1364,-2.0),(1400,-2.01),(1410,-2.09),(1420,-2.21),(1430,-2.23),(1443,-2.43),(1456,-2.49)],
 [(1364,-2.27),(1387,-2.30),(1413,-2.40),(1433,-2.47),(1456,-2.65)],
 [(1364,-2.45),(1387,-2.47),(1408,-2.54),(1417,-2.46),(1427,-2.47),(1443,-2.59),(1456,-2.67)],
 [(1364,-3.23),(1377,-3.19),(1385,-3.05),(1393,-2.81),(1400,-2.67),(1410,-2.56),(1423,-2.61),(1440,-2.70),(1456,-2.74)],
 [(1364,-3.47),(1373,-3.34),(1380,-3.27),(1400,-3.20),(1420,-3.10),(1437,-3.0),(1456,-2.94)],
 [(1364,-3.09),(1393,-3.03),(1420,-2.94),(1456,-2.81)],
 [(1364,-3.05),(1380,-3.05),(1400,-3.10),(1417,-3.10),(1437,-3.03),(1456,-2.92)],
 [(1364,-3.27),(1383,-3.26),(1400,-3.30),(1420,-3.38),(1440,-3.48),(1456,-3.50)],
 [(1364,-3.60),(1373,-3.68),(1383,-3.90),(1393,-4.10),(1405,-4.25),(1417,-4.48),(1430,-4.61),(1456,-4.61)],
 [(1364,-4.29),(1393,-4.27),(1407,-4.26),(1427,-4.21),(1456,-4.17)],
 [(1364,-4.32),(1400,-4.30),(1430,-4.25),(1456,-4.22)],
 [(1364,-4.38),(1387,-4.36),(1402,-4.32),(1427,-4.29),(1456,-4.26)],
 [(1364,-4.58),(1393,-4.56),(1420,-4.53),(1456,-4.50)],
 [(1364,-4.70),(1393,-4.68),(1427,-4.64),(1437,-4.72),(1456,-4.82)],
]

# Jumps at the path breaks
BREAKS = [(1270, 2, -3.65), (1270, -3.72, -5), (1364, 2, .69), (1364, -.65, -4.70)]

fig = go.Figure()
for section in (UPPER, GM, MZ, ZA, AZ, XR, MA):
    for band in section:
        fig.add_trace(go.Scatter(x=[p[0] for p in band], y=[p[1] for p in band], mode="lines",
                                 line=dict(color="black", width=2, shape="spline", smoothing=0.7),
                                 hoverinfo="skip", showlegend=False))
for k, e0, e1 in BREAKS:
    fig.add_trace(go.Scatter(x=[k, k], y=[e0, e1], mode="lines",
                             line=dict(color="black", width=2.5), hoverinfo="skip", showlegend=False))
fig.add_trace(go.Scatter(x=[K_TICKS[0], K_TICKS[-1]], y=[0, 0], mode="lines",
                         line=dict(color="#56B4E9", width=2), hoverinfo="skip", showlegend=False))

annotations = []
for text, k in K_LABELS:
    annotations.append(dict(x=k, y=0, xref="x", yref="paper", yshift=-44, xshift=-3 if k == K_TICKS[0] else 0,
                            text=text, showarrow=False,
                            font=dict(family="Liberation Serif" if text == "Γ" else "Liberation Sans",
                                      size=23 if text == "Γ" else 21, color="#222")))

fig.update_layout(
    width=1484, height=1034, margin=dict(l=55, r=36, t=20, b=51),
    paper_bgcolor="white", plot_bgcolor="white", annotations=annotations,
    xaxis=dict(range=[K_TICKS[0], K_TICKS[-1]], tickvals=K_TICKS, ticktext=[""] * len(K_TICKS), automargin=False,
               ticks="inside", ticklen=10, tickwidth=1.5, tickcolor="black",
               showline=True, linecolor="black", linewidth=2, mirror="allticks",
               showgrid=True, gridcolor="#999999", gridwidth=1, griddash="3px,3px", zeroline=False),
    yaxis=dict(range=[-5, 2], tickvals=E_TICKS, ticktext=E_LABELS, automargin=False,
               ticks="inside", ticklen=10, tickwidth=1.5, tickcolor="black", ticklabelstandoff=11,
               showline=True, linecolor="black", linewidth=2, mirror="allticks",
               showgrid=False, zeroline=False,
               tickfont=dict(family="Liberation Sans", size=21, color="#222")),
)
fig.write_html("out.html")
